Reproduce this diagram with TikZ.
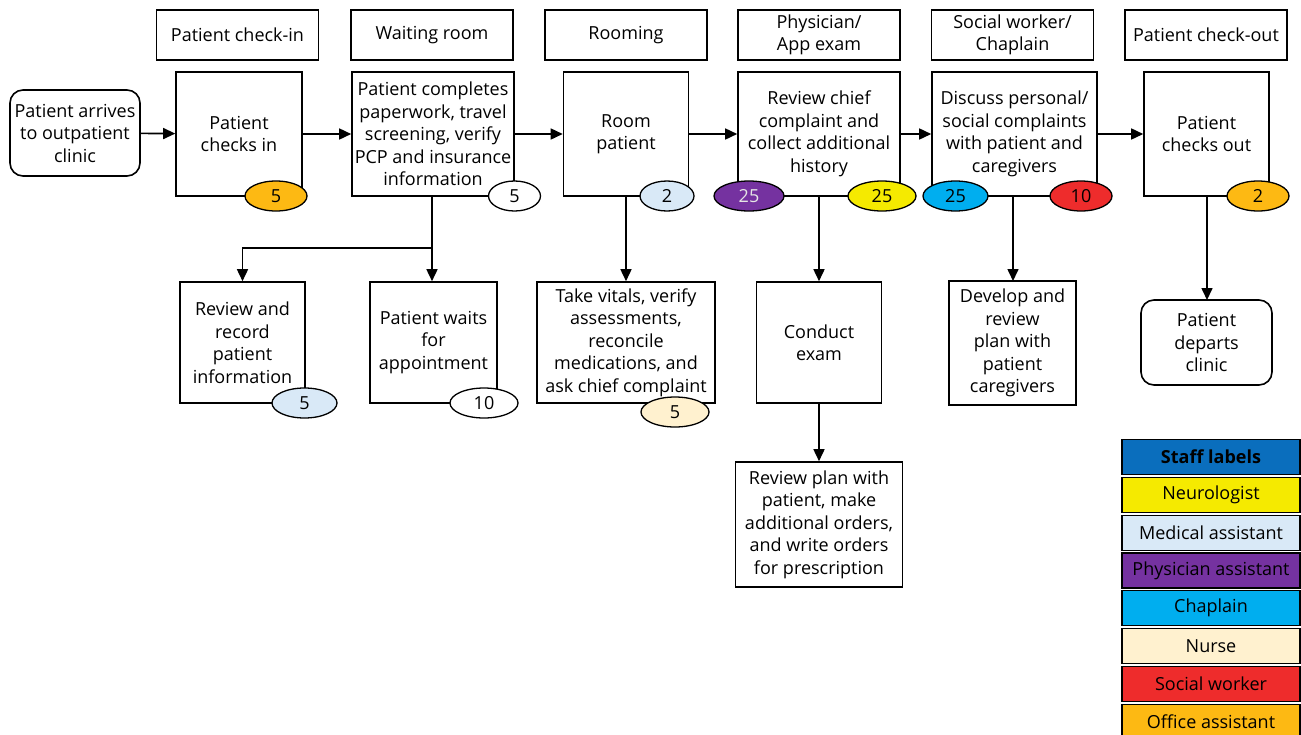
\documentclass[tikz,border=0pt]{standalone}
\usepackage{fontspec}
\setmainfont{Open Sans}
\usetikzlibrary{arrows.meta,shapes.geometric}
\definecolor{cOffice}{HTML}{FDB913}
\definecolor{cMed}{HTML}{D9E9F7}
\definecolor{cPhys}{HTML}{7532A0}
\definecolor{cNeuro}{HTML}{F5EA00}
\definecolor{cChap}{HTML}{00AEEF}
\definecolor{cNurse}{HTML}{FFF1CF}
\definecolor{cSocial}{HTML}{EE2C2C}
\definecolor{cStaff}{HTML}{0A6EBD}
\begin{document}
\begin{tikzpicture}[x=1pt,y=-1pt,
  every node/.style={font=\fontsize{18}{22.5}\selectfont, align=center, inner sep=0pt},
  box/.style={draw, line width=1.6pt, fill=white},
  rbox/.style={box, rounded corners=13pt},
  hdr/.style={box, minimum width=162pt, minimum height=50pt},
  badge/.style={ellipse, draw, line width=1.3pt, minimum width=62pt, minimum height=30pt},
  arr/.style={line width=1.6pt, -{Triangle[length=12pt,width=11pt]}},
  ln/.style={line width=1.6pt},
  leg/.style={draw, line width=1.2pt, minimum width=178pt, minimum height=35pt}]
\useasboundingbox (0,0) rectangle (1301,734);
\fill[white] (0,0) rectangle (1301,734);

% headers
\node[hdr] (h1) at (237.5,35) {Patient check-in};
\node[hdr] (h2) at (432,35) {Waiting room};
\node[hdr] (h3) at (626,35) {Rooming};
\node[hdr] (h4) at (819,35) {Physician/\\App exam};
\node[hdr] (h5) at (1012.5,35) {Social worker/\\Chaplain};
\node[hdr] (h6) at (1206,35) {Patient check-out};

% main row
\node[rbox, minimum width=130pt, minimum height=86pt] (s) at (75,133) {Patient arrives\\to outpatient\\clinic};
\node[box, minimum width=126pt, minimum height=124pt] (b1) at (239,134) {Patient\\checks in};
\node[box, minimum width=162pt, minimum height=124pt] (b2) at (433,134) {Patient completes\\paperwork, travel\\screening, verify\\PCP and insurance\\information};
\node[box, minimum width=125pt, minimum height=124pt] (b3) at (626,134) {Room\\patient};
\node[box, minimum width=162pt, minimum height=124pt] (b4) at (819,134) {Review chief\\complaint and\\collect additional\\history};
\node[box, minimum width=165pt, minimum height=124pt] (b5) at (1014.5,134) {Discuss personal/\\social complaints\\with patient and\\caregivers};
\node[box, minimum width=125pt, minimum height=124pt] (b6) at (1206.5,134) {Patient\\checks out};

% second row
\node[box, minimum width=125pt, minimum height=121pt] (r1) at (242.5,342.5) {Review and\\record\\patient\\information};
\node[box, minimum width=127pt, minimum height=121pt] (r2) at (433.5,342.5) {Patient waits\\for\\appointment};
\node[box, minimum width=178pt, minimum height=121pt] (r3) at (626,342.5) {Take vitals, verify\\assessments,\\reconcile\\medications, and\\ask chief complaint};
\node[box, minimum width=125pt, minimum height=121pt] (r4) at (819,342.5) {Conduct\\exam};
\node[box, minimum width=127pt, minimum height=124pt] (r5) at (1012.5,343) {Develop and\\review\\plan with\\patient\\caregivers};
\node[rbox, minimum width=131pt, minimum height=85pt] (r6) at (1206.5,342.5) {Patient\\departs\\clinic};
\node[box, minimum width=167pt, minimum height=125pt] (r7) at (819,524.5) {Review plan with\\patient, make\\additional orders,\\and write orders\\for prescription};

% connectors
\draw[arr] (s) -- (b1);
\draw[arr] (b1) -- (b2);
\draw[arr] (b2) -- (b3);
\draw[arr] (b3) -- (b4);
\draw[arr] (b4) -- (b5);
\draw[arr] (b5) -- (b6);
\coordinate (br) at (432,248);
\draw[ln] (b2.south -| br) -- (br);
\draw[arr] (br) -| (r1.north);
\draw[arr] (br) -- (br |- r2.north);
\draw[arr] (b3.south) -- (b3.south |- r3.north);
\draw[arr] (b4.south) -- (b4.south |- r4.north);
\draw[arr] (1013,196) -- (1013,281);
\draw[arr] (1207,196) -- (1207,300);
\draw[arr] (r4.south) -- (r4.south |- r7.north);

% badges
\node[badge, fill=cOffice] (e1) at (276,196) {5};
\node[badge, fill=white, minimum width=52pt] (e2) at (514.5,196) {5};
\node[badge, fill=cMed, minimum width=54pt] (e3) at (667,196) {2};
\node[badge, fill=cPhys, text=white!90!black, minimum width=70pt] (e4) at (749,196) {25};
\node[badge, fill=cNeuro, minimum width=68pt] (e5) at (882,196) {25};
\node[badge, fill=cChap, minimum width=65pt] (e6) at (955.5,196) {25};
\node[badge, fill=cSocial] (e7) at (1081,196) {10};
\node[badge, fill=cOffice] (e8) at (1258,196) {2};
\node[badge, fill=cMed, minimum width=65pt] (e9) at (304.5,403) {5};
\node[badge, fill=white, minimum width=68pt] (e10) at (484,403) {10};
\node[badge, fill=cNurse, minimum width=68pt] (e11) at (675,412) {5};

% legend
\node[leg, fill=cStaff, font=\fontsize{18}{22.5}\selectfont\bfseries] (l0) at (1211,457) {Staff labels};
\node[leg, fill=cNeuro] (l1) at (1211,494.8) {Neurologist};
\node[leg, fill=cMed] (l2) at (1211,532.6) {Medical assistant};
\node[leg, fill=cPhys] (l3) at (1211,570.4) {Physician assistant};
\node[leg, fill=cChap] (l4) at (1211,608.2) {Chaplain};
\node[leg, fill=cNurse] (l5) at (1211,646) {Nurse};
\node[leg, fill=cSocial] (l6) at (1211,683.8) {Social worker};
\node[leg, fill=cOffice] (l7) at (1211,721.6) {Office assistant};
\end{tikzpicture}
\end{document}
